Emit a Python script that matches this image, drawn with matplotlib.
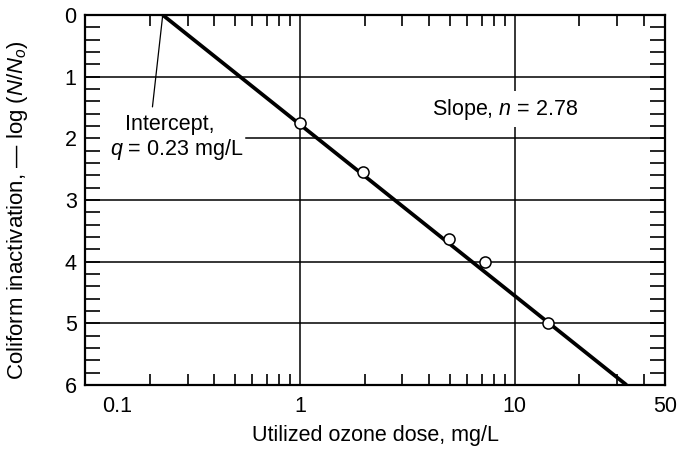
import matplotlib
matplotlib.use("Agg")
import matplotlib.pyplot as plt
import matplotlib.transforms as mtransforms
from matplotlib.ticker import FixedLocator, NullFormatter, MultipleLocator
import numpy as np

# observed inactivation vs utilized ozone dose
dose = [1.0, 1.97, 4.92, 7.24, 14.3]
inactivation = [1.75, 2.54, 3.63, 4.0, 5.0]

# fitted model: -log(N/No) = n * log(U / q)
q = 0.23
n = 2.78

x_ticks = [0.1, 1, 10, 50]
x_ticklabels = ["0.1", "1", "10", "50"]
y_ticks = [0, 1, 2, 3, 4, 5, 6]

plt.rcParams["font.family"] = ["Liberation Sans", "DejaVu Sans"]
plt.rcParams["font.size"] = 15.5
plt.rcParams["mathtext.fontset"] = "custom"
plt.rcParams["mathtext.rm"] = "Liberation Sans"
plt.rcParams["mathtext.it"] = "Liberation Sans:italic"

fig = plt.figure(figsize=(6.78, 4.53), dpi=100)
ax = fig.add_axes([85 / 678, 1 - 385 / 453, 580 / 678, 370 / 453])

ax.set_xscale("log")
ax.set_xlim(0.1, 50)
ax.set_ylim(6, 0)

# grid: verticals at the decades, horizontals at each log unit
for xv in [1, 10]:
    ax.axvline(xv, color="black", lw=1.1, zorder=1)
grid_h = {}
for yv in [1, 2, 3, 4, 5]:
    grid_h[yv] = ax.axhline(yv, color="black", lw=1.1, zorder=1)

# fitted line from the intercept down to the bottom of the plot
x_line = np.array([q, q * 10 ** (6 / n)])
y_line = n * np.log10(x_line / q)
ax.plot(x_line, y_line, color="black", lw=2.7, zorder=3, solid_capstyle="butt")

ax.plot(dose, inactivation, "o", ms=8, mfc="white", mec="black", mew=1.1,
        zorder=4, clip_on=False)

# ticks
ax.xaxis.set_major_locator(FixedLocator(x_ticks))
ax.set_xticklabels(x_ticklabels)
minor = [m * 10.0 ** d for d in (-1, 0, 1) for m in range(2, 10) if m * 10.0 ** d < 50]
ax.xaxis.set_minor_locator(FixedLocator(minor))
ax.xaxis.set_minor_formatter(NullFormatter())
ax.tick_params(axis="x", which="major", length=0, pad=8, top=True)
ax.tick_params(axis="x", which="minor", direction="in", length=8, width=1.2,
               top=True, bottom=True)

ax.set_yticks(y_ticks)
ax.yaxis.set_minor_locator(MultipleLocator(0.2))
ax.tick_params(axis="y", which="both", direction="in", length=11, width=1.2,
               left=True, right=True, pad=6)

for s in ax.spines.values():
    s.set_linewidth(1.6)

# shift the leftmost x label off the corner
lab0 = ax.get_xticklabels()[0]
lab0.set_transform(lab0.get_transform() +
                   mtransforms.ScaledTranslation(0.32, 0, fig.dpi_scale_trans))

fig.text(375 / 678, 1 - 435 / 453, "Utilized ozone dose, mg/L",
         ha="center", va="center")
fig.text(18 / 678, 1 - 210 / 453, r"Coliform inactivation, — log ($N/N_o$)",
         rotation=90, ha="center", va="center", fontsize=16)

# annotations
ax.annotate("", xy=(q, 0), xytext=(0.206, 1.49),
            arrowprops=dict(arrowstyle="-", lw=0.9, color="black",
                            shrinkA=0, shrinkB=0), zorder=2)
ax.text(0.154, 1.86, "Intercept,", ha="left", va="baseline", zorder=5)
t_q = ax.text(0.131, 2.27, r"$q$ = 0.23 mg/L", ha="left", va="baseline", zorder=5)
ax.text(4.11, 1.62, r"Slope, $n$ = 2.78", ha="left", va="baseline", zorder=5,
        bbox=dict(facecolor="white", edgecolor="none", pad=4))

# the y = 2 grid line stops where the intercept label ends
fig.canvas.draw()
bb = t_q.get_window_extent().transformed(ax.transAxes.inverted())
grid_h[2].set_xdata([bb.x1 + 0.005, 1])

fig.savefig("out.png", dpi=100)
